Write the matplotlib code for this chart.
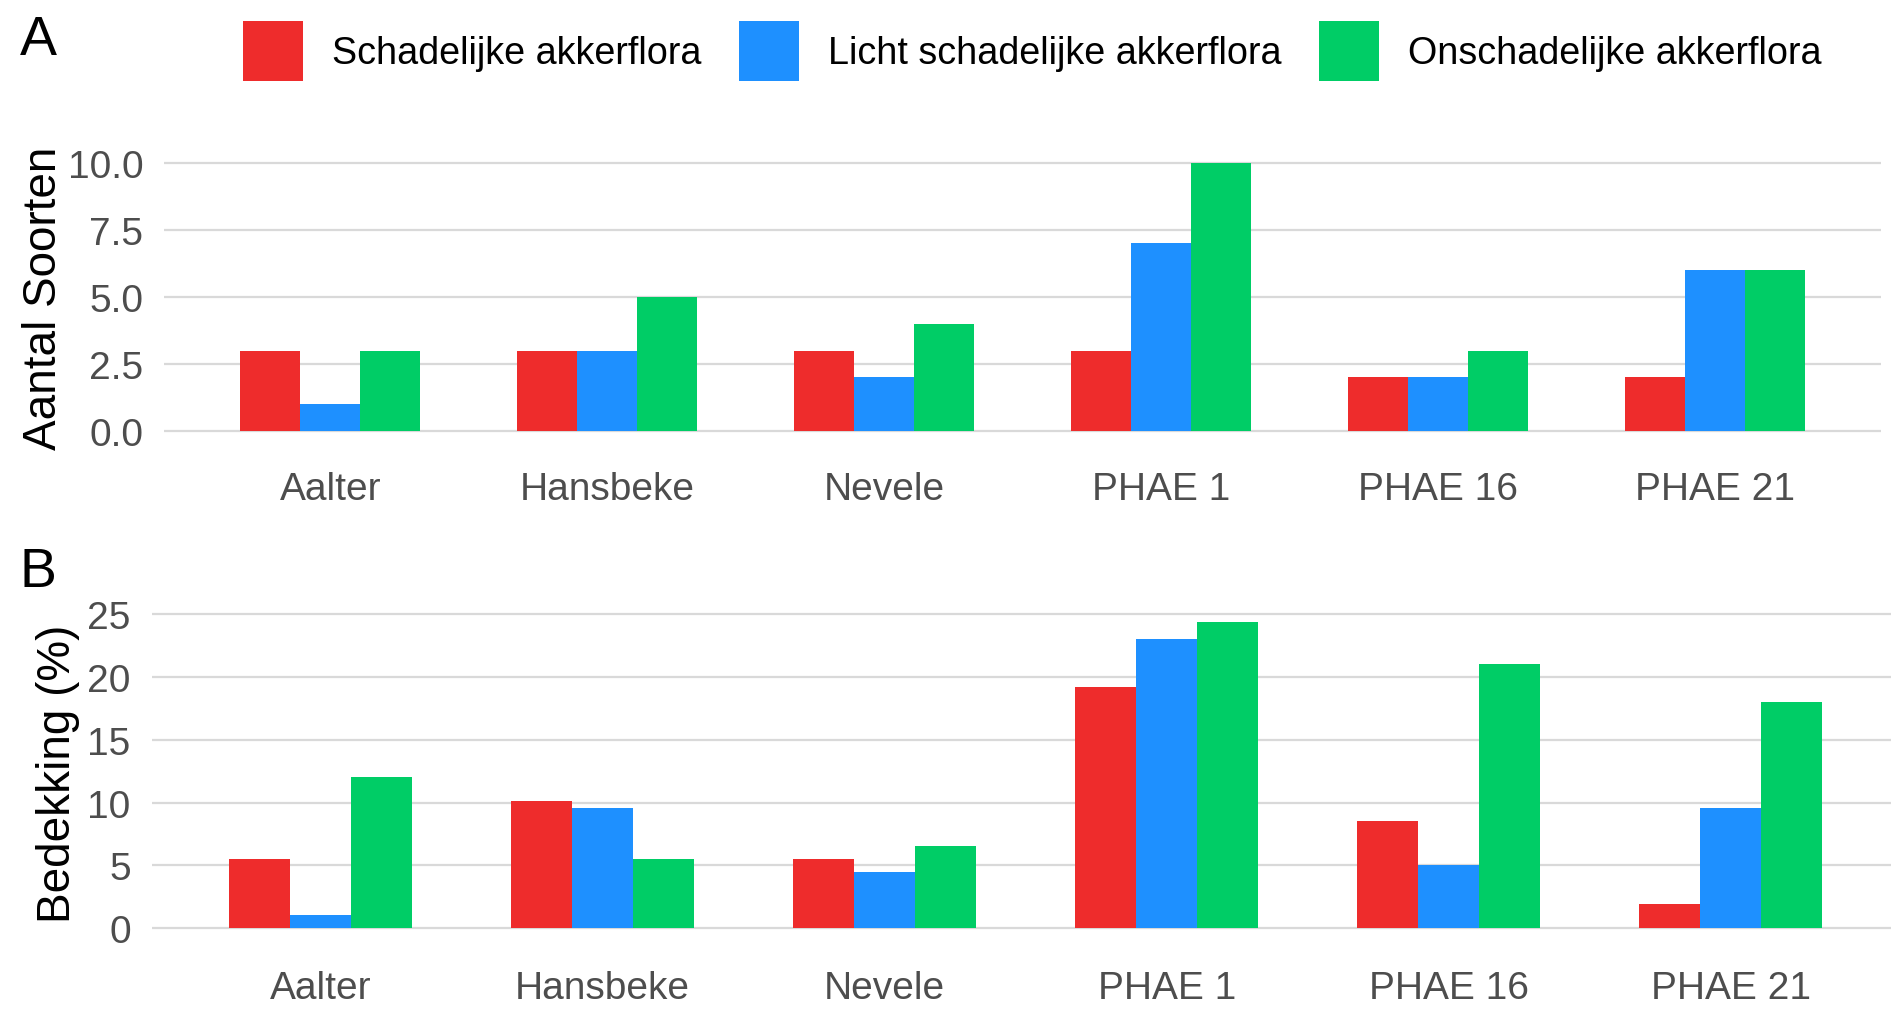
import numpy as np
import matplotlib
matplotlib.use("Agg")
import matplotlib.pyplot as plt
from matplotlib.ticker import FormatStrFormatter

plt.rcParams['font.family'] = ['Liberation Sans', 'DejaVu Sans']

locaties = ["Aalter", "Hansbeke", "Nevele", "PHAE 1", "PHAE 16", "PHAE 21"]
groepen = ["Schadelijke akkerflora", "Licht schadelijke akkerflora", "Onschadelijke akkerflora"]
kleuren = ["#EE2C2C", "#1E90FF", "#00CD66"]

# A: aantal soorten
soorten_schadelijk = [3, 3, 3, 3, 2, 2]
soorten_licht = [1, 3, 2, 7, 2, 6]
soorten_onschadelijk = [3, 5, 4, 10, 3, 6]

# B: bedekking (%)
bedekking_schadelijk = [5.5, 10.1, 5.5, 19.2, 8.5, 1.9]
bedekking_licht = [1.0, 9.6, 4.5, 23.0, 5.0, 9.6]
bedekking_onschadelijk = [12.0, 5.5, 6.5, 24.4, 21.0, 18.0]

W, H = 1891, 1012
fig = plt.figure(figsize=(W / 100, H / 100), dpi=100)


def paneel(rect, reeksen, yticks, fmt, ylim):
    ax = fig.add_axes(rect)
    x = np.arange(len(locaties))
    w = 0.65 / 3
    bars = []
    for j, (vals, kleur, naam) in enumerate(zip(reeksen, kleuren, groepen)):
        b = ax.bar(x + (j - 1) * w, vals, width=w, color=kleur, label=naam, zorder=2)
        bars.append(b)
    ax.set_xlim(-0.6, len(locaties) - 0.4)
    ax.set_ylim(*ylim)
    ax.set_yticks(yticks)
    ax.yaxis.set_major_formatter(FormatStrFormatter(fmt))
    ax.set_xticks(x)
    ax.set_xticklabels(locaties)
    ax.grid(axis='y', color='#D9D9D9', linewidth=1.6, zorder=0)
    ax.grid(axis='x', visible=False)
    for s in ax.spines.values():
        s.set_visible(False)
    ax.tick_params(axis='both', length=0, labelsize=28, labelcolor='#4D4D4D')
    ax.tick_params(axis='y', pad=15)
    ax.tick_params(axis='x', pad=19)
    return ax, bars


# panel A
axA, barsA = paneel([164.3 / W, 1 - 445.4 / H, 1716.7 / W, 294.8 / H],
                    [soorten_schadelijk, soorten_licht, soorten_onschadelijk],
                    [0, 2.5, 5, 7.5, 10], '%.1f', (-0.5, 10.5))
axA.set_ylabel("Aantal Soorten", fontsize=33, va='center')
axA.yaxis.set_label_coords(44 / W, 0.705, transform=fig.transFigure)

# panel B
axB, barsB = paneel([151.5 / W, 1 - 944.3 / H, 1748.5 / W, 336.8 / H],
                    [bedekking_schadelijk, bedekking_licht, bedekking_onschadelijk],
                    [0, 5, 10, 15, 20, 25], '%d', (-1.22, 25.62))
axB.set_ylabel("Bedekking (%)", fontsize=33, va='center')
axB.yaxis.set_label_coords(58 / W, 0.2357, transform=fig.transFigure)

fig.text(20 / W, 1 - 55 / H, "A", fontsize=40, va='baseline', ha='left')
fig.text(19 / W, 1 - 587 / H, "B", fontsize=40, va='baseline', ha='left')

fig.legend(handles=barsA, labels=groepen, ncol=3, loc='center',
           bbox_to_anchor=(1032 / W, 1 - 52 / H), frameon=False, fontsize=27.2,
           handlelength=1.6, handleheight=2.05, handletextpad=0.75,
           columnspacing=1.0, borderpad=0, borderaxespad=0)

fig.savefig("out.png", dpi=100)
